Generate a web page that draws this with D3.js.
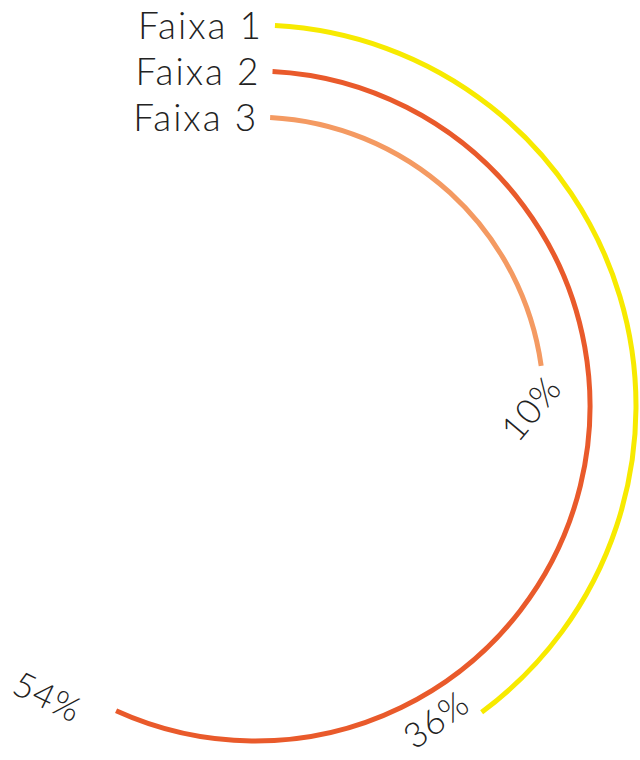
<!DOCTYPE html>
<html>
<head>
<meta charset="utf-8">
<script src="https://cdn.jsdelivr.net/npm/d3@7"></script>
<style>
  html, body { margin: 0; padding: 0; background: #fff; }
  svg { display: block; }
</style>
</head>
<body>
<div id="chart"></div>
<script>
// chart data
const bands = ["Faixa 1", "Faixa 2", "Faixa 3"];
const shares = [36, 54, 10];
const bandColors = ["#f7ea00", "#e95a2b", "#f49a62"];

const width = 640, height = 760;
const cx = 255, cy = 406;

const svg = d3.select("#chart")
  .append("svg")
  .attr("width", width)
  .attr("height", height);

const g = svg.append("g")
  .attr("transform", `translate(${cx},${cy})`);

// ring radius per band (outer to inner)
const radius = d3.scalePoint()
  .domain(bands)
  .range([381, 289]);

// sweep of each arc, in degrees clockwise from 12 o'clock
const sweep = d3.scaleLinear()
  .domain([10, 36, 54])
  .range([82, 143.5, 204.5]);

const startDeg = 3;
const rad = d => d * Math.PI / 180;

const arc = d3.arc()
  .innerRadius(d => d.r)
  .outerRadius(d => d.r)
  .startAngle(rad(startDeg))
  .endAngle(d => rad(sweep(d.v)));

const rows = bands.map((b, i) => ({
  band: b, v: shares[i], color: bandColors[i], r: radius(b)
}));

// arcs
g.selectAll("path.ring")
  .data(rows)
  .enter()
  .append("path")
  .attr("class", "ring")
  .attr("d", arc)
  .attr("fill", "none")
  .attr("stroke", d => d.color)
  .attr("stroke-width", 5);

// band names at the start of each arc
g.selectAll("text.band")
  .data(rows)
  .enter()
  .append("text")
  .attr("class", "band")
  .attr("x", d => d.r * Math.sin(rad(startDeg)) - 12)
  .attr("y", d => -d.r * Math.cos(rad(startDeg)))
  .attr("dy", "0.36em")
  .attr("text-anchor", "end")
  .attr("font-family", "Lato, 'Noto Sans', sans-serif")
  .attr("font-weight", 300)
  .attr("font-size", 37)
  .attr("letter-spacing", 2)
  .attr("fill", "#222")
  .text(d => d.band);

// percent labels just past the end of each arc
const labelTilt = { "Faixa 1": -36, "Faixa 2": 26, "Faixa 3": -50 };
const labelShift = { "Faixa 1": [6.5, -19], "Faixa 2": [11, 22], "Faixa 3": [8.5, -13] };

g.selectAll("text.pct")
  .data(rows)
  .enter()
  .append("text")
  .attr("class", "pct")
  .attr("transform", d => {
    const a = rad(sweep(d.v) + labelShift[d.band][0]);
    const r = d.r + labelShift[d.band][1];
    return `translate(${r * Math.sin(a)},${-r * Math.cos(a)}) rotate(${labelTilt[d.band]})`;
  })
  .attr("dy", "0.36em")
  .attr("text-anchor", "middle")
  .attr("font-family", "Lato, 'Noto Sans', sans-serif")
  .attr("font-weight", 300)
  .attr("font-size", 35)
  .attr("letter-spacing", 1)
  .attr("fill", "#222")
  .text(d => d.v + "%");
</script>
</body>
</html>
